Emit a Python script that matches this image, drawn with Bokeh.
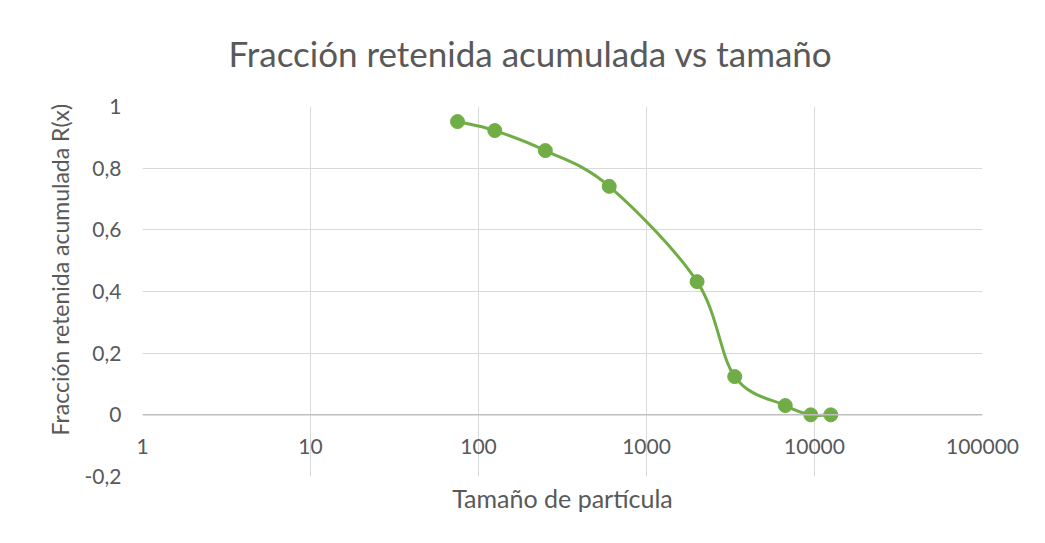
import numpy as np
from bokeh.plotting import figure
from bokeh.models import Range1d, FixedTicker, CustomJSTickFormatter, Span, Title
from bokeh.embed import file_html
from bokeh.resources import INLINE

# ---- data ----
sizes = [75, 125, 250, 600, 2000, 3350, 6700, 9500, 12500]
retained = [0.951, 0.922, 0.857, 0.741, 0.432, 0.124, 0.030, 0.0, 0.0]
x_ticks = [1, 10, 100, 1000, 10000, 100000]
y_ticks = [-0.2, 0, 0.2, 0.4, 0.6, 0.8, 1.0]

title_text = "Fracción retenida acumulada vs tamaño"
x_title = "Tamaño de partícula"
y_title = "Fracción retenida acumulada R(x)"

GREEN = "#70AD47"
GRID = "#d9d9d9"
TXT = "#595959"
FONT = "Lato"

W, H = 1040, 540
p = figure(width=W, height=H, x_axis_type="log",
           x_range=Range1d(1, 100000), y_range=Range1d(-0.2, 1.0),
           output_backend="svg", toolbar_location=None,
           min_border_left=142, min_border_right=W - 982, min_border_top=105, min_border_bottom=H - 476,
           title=title_text)
p.outline_line_color = None

p.title.align = "left"
p.title.offset = 86
p.title.vertical_align = "top"
p.title.text_font = FONT
p.title.text_font_size = "35px"
p.title.text_font_style = "normal"
p.title.text_color = TXT
p.title.standoff = 62

# grid
p.xgrid.ticker = FixedTicker(ticks=x_ticks)
p.ygrid.ticker = FixedTicker(ticks=y_ticks)
p.xgrid.grid_line_color = GRID
p.ygrid.grid_line_color = GRID
p.xgrid.minor_grid_line_color = None

# y axis
p.yaxis.ticker = FixedTicker(ticks=y_ticks)
p.yaxis.formatter = CustomJSTickFormatter(code="return String(Number(tick.toFixed(1))).replace('.', ',');")
p.yaxis.axis_line_color = None
p.yaxis.major_tick_line_color = None
p.yaxis.minor_tick_line_color = None
p.yaxis.major_label_standoff = 15
p.yaxis.major_label_text_font = FONT
p.yaxis.major_label_text_font_size = "21px"
p.yaxis.major_label_text_color = TXT

# y axis title (vertical, placed like Excel's)
yt = Title(text=y_title, align="left", offset=41, standoff=16,
           text_font=FONT, text_font_size="23px", text_font_style="normal", text_color=TXT)
p.add_layout(yt, "left")

# x axis: its tick labels are pulled up so they sit under the y = 0 line
p.xaxis.ticker = FixedTicker(ticks=x_ticks)
p.xaxis.formatter = CustomJSTickFormatter(code="return String(Math.round(tick));")
p.xaxis.axis_line_color = None
p.xaxis.major_tick_line_color = None
p.xaxis.minor_tick_line_color = None
p.xaxis.major_label_standoff = -44
p.xaxis.major_label_text_font = FONT
p.xaxis.major_label_text_font_size = "21px"
p.xaxis.major_label_text_color = TXT
p.xaxis.axis_label = x_title
p.xaxis.axis_label_text_font = FONT
p.xaxis.axis_label_text_font_size = "25px"
p.xaxis.axis_label_text_font_style = "normal"
p.xaxis.axis_label_text_color = TXT
p.xaxis.axis_label_standoff = 26

p.add_layout(Span(location=0, dimension="width", line_color="#bfbfbf", line_width=1.5))

# smoothed line (Catmull-Rom style Bezier segments, like Excel's smoothing)
lx = np.log10(np.array(sizes, dtype=float))
ly = np.array(retained, dtype=float)
n = len(lx)
bx0, by0, bx1, by1, cx0, cy0, cx1, cy1 = ([] for _ in range(8))
for i in range(n - 1):
    a = i - 1 if i > 0 else i
    d = i + 2 if i + 2 < n else i + 1
    bx0.append(10 ** lx[i]); by0.append(ly[i])
    bx1.append(10 ** lx[i + 1]); by1.append(ly[i + 1])
    cx0.append(10 ** (lx[i] + (lx[i + 1] - lx[a]) / 6)); cy0.append(ly[i] + (ly[i + 1] - ly[a]) / 6)
    cx1.append(10 ** (lx[i + 1] - (lx[d] - lx[i]) / 6)); cy1.append(ly[i + 1] - (ly[d] - ly[i]) / 6)

p.bezier(x0=bx0, y0=by0, x1=bx1, y1=by1, cx0=cx0, cy0=cy0, cx1=cx1, cy1=cy1,
         line_color=GREEN, line_width=3)
p.scatter(sizes, retained, size=14, fill_color=GREEN, line_color=GREEN)

open("out.html", "w").write(file_html(p, INLINE))
